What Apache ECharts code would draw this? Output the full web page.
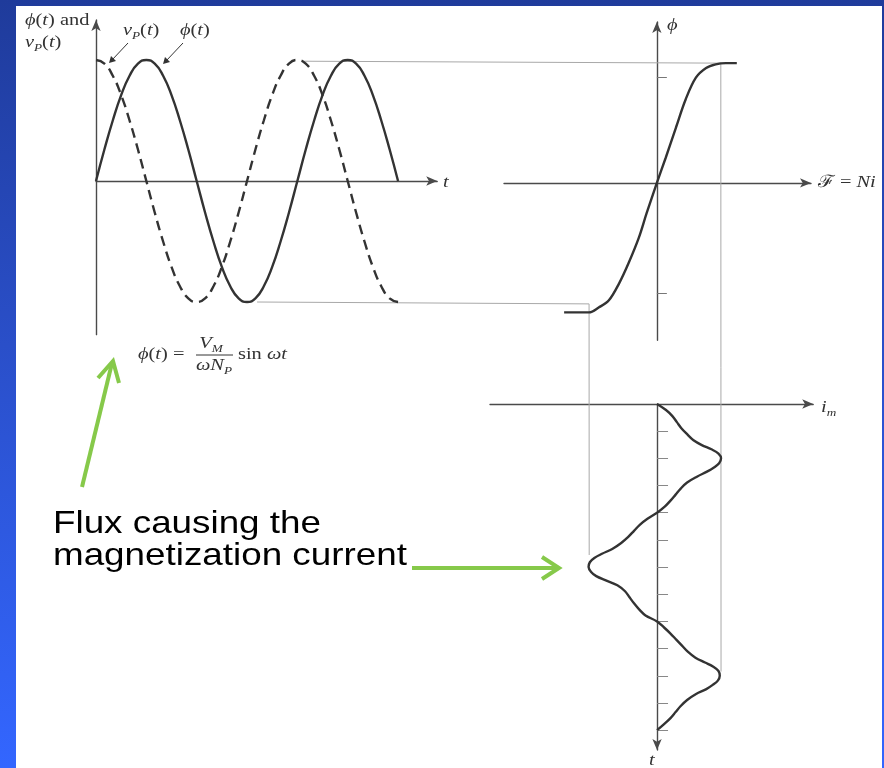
<!DOCTYPE html>
<html>
<head>
<meta charset="utf-8">
<script src="https://cdn.jsdelivr.net/npm/echarts@6/dist/echarts.min.js"></script>
<style>
  html, body { margin: 0; padding: 0; width: 884px; height: 768px; overflow: hidden; }
  body { position: relative; background: linear-gradient(to bottom, #1f3b9b 0%, #2a4fc9 45%, #3366ff 100%); }
  #panel { position: absolute; left: 16px; top: 6px; width: 866px; height: 762px; background: #ffffff; }
  #chart { position: absolute; left: 0; top: 0; width: 884px; height: 768px; }
</style>
</head>
<body>
<div id="panel"></div>
<div id="chart"></div>
<script>
// ---- flux and primary voltage against ωt (degrees) ----
const wtDeg = [0, 15, 30, 45, 60, 75, 90, 105, 120, 135, 150, 165, 180, 195, 210, 225, 240, 255, 270,
  285, 300, 315, 330, 345, 360, 375, 390, 405, 420, 435, 450, 465, 480, 495, 510, 525, 540];
const fluxValues = [0, 0.26, 0.5, 0.71, 0.87, 0.97, 1, 0.97, 0.87, 0.71, 0.5, 0.26, 0, -0.26, -0.5, -0.71,
  -0.87, -0.97, -1, -0.97, -0.87, -0.71, -0.5, -0.26, 0, 0.26, 0.5, 0.71, 0.87, 0.97, 1, 0.97, 0.87, 0.71,
  0.5, 0.26, 0];
const voltageValues = [1, 0.97, 0.87, 0.71, 0.5, 0.26, 0, -0.26, -0.5, -0.71, -0.87, -0.97, -1, -0.97,
  -0.87, -0.71, -0.5, -0.26, 0, 0.26, 0.5, 0.71, 0.87, 0.97, 1, 0.97, 0.87, 0.71, 0.5, 0.26, 0, -0.26,
  -0.5, -0.71, -0.87, -0.97, -1];

// ---- magnetization curve: mmf F = Ni against flux ----
const mmfValues = [-1.45, -1.06, -0.91, -0.75, -0.59, -0.44, -0.28, -0.16, 0, 0.14, 0.30, 0.45, 0.61,
  0.77, 0.92, 1.08, 1.25];
const curveFluxValues = [-1.07, -1.07, -1.03, -0.97, -0.83, -0.66, -0.45, -0.25, 0, 0.21, 0.46, 0.69,
  0.87, 0.95, 0.98, 0.99, 0.99];
const fluxAxisMarks = [0.87, -0.91];

// ---- magnetization current against time (degrees) ----
const currentTimes = [0, 10, 20, 30, 40, 50, 60, 68, 75, 82, 90, 98, 105, 112, 120, 130, 140, 150, 160,
  170, 180, 190, 200, 210, 220, 230, 240, 248, 255, 262, 270, 278, 285, 292, 300, 310, 320, 330, 340, 350,
  360, 370, 380, 390, 400, 410, 420, 428, 435, 442, 450, 458, 465, 472, 480, 490, 500, 510, 520, 530, 540];
const currentValues = [0, 0.14, 0.24, 0.31, 0.38, 0.47, 0.57, 0.70, 0.85, 0.96, 1.0, 0.97, 0.89, 0.78,
  0.63, 0.47, 0.37, 0.29, 0.21, 0.12, 0, -0.15, -0.27, -0.36, -0.45, -0.56, -0.70, -0.86, -0.98, -1.05,
  -1.07, -1.03, -0.95, -0.80, -0.62, -0.50, -0.43, -0.36, -0.28, -0.18, 0, 0.11, 0.21, 0.30, 0.39, 0.48,
  0.60, 0.75, 0.88, 0.96, 0.98, 0.95, 0.87, 0.77, 0.61, 0.47, 0.37, 0.29, 0.21, 0.11, 0];
const timeTicks = [45, 90, 135, 180, 225, 270, 315, 360, 405, 450, 495, 540];

// ---- projection guides: [start ωt, flux level, mmf / current level, end time] ----
const upperProjection = [370, 0.99, 1.0, 443];
const lowerProjection = [288, -1.0, -1.06, 250];

const SERIF = '"Liberation Serif","DejaVu Serif",serif';
const INK = '#333333';
const AXIS = '#4a4a4a';
const GREEN = '#86c94a';

const richStyles = {
  i: { fontStyle: 'italic', fontFamily: SERIF, fontSize: 17, lineHeight: 22, fill: INK },
  r: { fontFamily: SERIF, fontSize: 17, lineHeight: 22, fill: INK },
  s: { fontStyle: 'italic', fontFamily: SERIF, fontSize: 11, lineHeight: 12, verticalAlign: 'bottom', fill: INK }
};

function serifText(id, x, yCenter, text, align) {
  return {
    type: 'text', id: id, x: x, y: yCenter, scaleX: 1.2, silent: true, z: 5,
    style: {
      text: text, rich: richStyles, fontFamily: SERIF, fontSize: 17, lineHeight: 22, fill: INK,
      align: align || 'left', verticalAlign: 'middle'
    }
  };
}

function axisStyle(symbol) {
  return {
    show: true, onZero: true,
    symbol: symbol || ['none', 'arrow'], symbolSize: [7, 11],
    lineStyle: { color: AXIS, width: 1.4 }
  };
}

const hidden = { show: false };

const option = {
  animation: false,
  backgroundColor: 'transparent',
  grid: [
    { left: 96, top: 20.07, width: 341.2, height: 314.6 },
    { left: 504, top: 22, width: 307, height: 318.2 },
    { left: 490, top: 404, width: 323.2, height: 346.1 }
  ],
  xAxis: [
    { gridIndex: 0, type: 'value', min: 0, max: 610, axisLine: axisStyle(), axisTick: hidden, axisLabel: hidden, splitLine: hidden },
    { gridIndex: 1, type: 'value', min: -2.39, max: 2.41, axisLine: axisStyle(), axisTick: hidden, axisLabel: hidden, splitLine: hidden },
    { gridIndex: 2, type: 'value', min: -2.61, max: 2.44, axisLine: axisStyle(), axisTick: hidden, axisLabel: hidden, splitLine: hidden }
  ],
  yAxis: [
    { gridIndex: 0, type: 'value', min: -1.27, max: 1.33, axisLine: axisStyle(), axisTick: hidden, axisLabel: hidden, splitLine: hidden },
    { gridIndex: 1, type: 'value', min: -1.30, max: 1.33, axisLine: axisStyle(),
      axisTick: { show: true, inside: true, length: 10, customValues: fluxAxisMarks, lineStyle: { color: '#777', width: 1 } },
      axisLabel: hidden, splitLine: hidden },
    { gridIndex: 2, type: 'value', min: 0, max: 573, inverse: true, axisLine: axisStyle(['arrow', 'none']),
      axisTick: { show: true, inside: true, length: 11, customValues: timeTicks, lineStyle: { color: '#888', width: 1 } },
      axisLabel: hidden, splitLine: hidden }
  ],
  series: [
    {
      name: 'φ(t)', type: 'line', xAxisIndex: 0, yAxisIndex: 0, smooth: true, showSymbol: false, z: 3,
      lineStyle: { color: INK, width: 2.4 },
      data: wtDeg.map((t, i) => [t, fluxValues[i]])
    },
    {
      name: 'vP(t)', type: 'line', xAxisIndex: 0, yAxisIndex: 0, smooth: true, showSymbol: false, z: 3,
      lineStyle: { color: INK, width: 2.4, type: [10, 6] },
      data: wtDeg.map((t, i) => [t, voltageValues[i]])
    },
    {
      name: 'magnetization curve', type: 'line', xAxisIndex: 1, yAxisIndex: 1, smooth: 0.35, showSymbol: false, z: 3,
      lineStyle: { color: INK, width: 2.4 },
      data: mmfValues.map((f, i) => [f, curveFluxValues[i]])
    },
    {
      name: 'i_m', type: 'line', xAxisIndex: 2, yAxisIndex: 2, smooth: 0.35, showSymbol: false, z: 3,
      lineStyle: { color: INK, width: 2.4 },
      data: currentTimes.map((t, i) => [currentValues[i], t])
    }
  ],
  graphic: { elements: [
    // axis captions
    serifText('capY1', 25, 21, '{i|ϕ}{r|(}{i|t}{r|) and}'),
    serifText('capY2', 25, 43, '{i|v}{s|P}{r|(}{i|t}{r|)}'),
    serifText('capV', 123, 31, '{i|v}{s|P}{r|(}{i|t}{r|)}'),
    serifText('capPhi', 180, 31, '{i|ϕ}{r|(}{i|t}{r|)}'),
    serifText('capT1', 443, 183, '{i|t}'),
    serifText('capPhiAxis', 667, 26, '{i|ϕ}'),
    serifText('capF', 818, 183, '{r|ℱ = }{i|Ni}'),
    serifText('capIm', 821, 408, '{i|i}{s|m}'),
    serifText('capT2', 649, 761, '{i|t}'),
    // formula ϕ(t) = V_M / (ω N_P) sin ωt
    serifText('fLeft', 138, 355, '{i|ϕ}{r|(}{i|t}{r|) =}'),
    serifText('fNum', 211, 344, '{i|V}{s|M}', 'center'),
    serifText('fDen', 214, 366, '{i|ωN}{s|P}', 'center'),
    serifText('fRight', 238, 355, '{r|sin }{i|ωt}'),
    { type: 'line', id: 'fBar', silent: true, z: 5, shape: { x1: 196, y1: 355, x2: 233, y2: 355 }, style: { stroke: INK, lineWidth: 1 } },
    // small pointer arrows for the curve captions
    { type: 'line', id: 'ptrV', silent: true, z: 5, shape: { x1: 128, y1: 43, x2: 112, y2: 60 }, style: { stroke: INK, lineWidth: 1 } },
    { type: 'polygon', id: 'ptrVHead', silent: true, z: 5, shape: { points: [[109, 63], [111, 56], [116, 61]] }, style: { fill: INK } },
    { type: 'line', id: 'ptrP', silent: true, z: 5, shape: { x1: 183, y1: 43, x2: 166, y2: 61 }, style: { stroke: INK, lineWidth: 1 } },
    { type: 'polygon', id: 'ptrPHead', silent: true, z: 5, shape: { points: [[163, 64], [165, 57], [170, 62]] }, style: { fill: INK } },
    // green annotation arrows
    { type: 'polyline', id: 'g1', silent: true, z: 6, shape: { points: [[82, 487], [112, 363]] }, style: { stroke: GREEN, lineWidth: 4 } },
    { type: 'polyline', id: 'g1h', silent: true, z: 6, shape: { points: [[98, 378], [113, 361], [119, 383]] }, style: { stroke: GREEN, lineWidth: 4, lineJoin: 'miter' } },
    { type: 'polyline', id: 'g2', silent: true, z: 6, shape: { points: [[412, 568], [557, 568]] }, style: { stroke: GREEN, lineWidth: 4 } },
    { type: 'polyline', id: 'g2h', silent: true, z: 6, shape: { points: [[542, 557], [559, 568], [542, 579]] }, style: { stroke: GREEN, lineWidth: 4, lineJoin: 'miter' } },
    {
      type: 'text', id: 'note', x: 53, y: 508, scaleX: 1.15, silent: true, z: 6,
      style: {
        text: 'Flux causing the\nmagnetization current',
        fontFamily: '"Liberation Sans", Arial, sans-serif', fontSize: 32, lineHeight: 32,
        fill: '#000000', align: 'left', verticalAlign: 'top'
      }
    }
  ] }
};

const chart = echarts.init(document.getElementById('chart'), null, { renderer: 'canvas' });
chart.setOption(option);

// projection guides between the three plots, placed through each grid's own axes
function toPx(gridIndex, pt) { return chart.convertToPixel({ gridIndex: gridIndex }, pt); }
function projection(p) {
  return [
    toPx(0, [p[0], p[1]]),
    toPx(1, [p[2], p[1]]),
    toPx(2, [p[2], p[3]])
  ];
}
chart.setOption({
  graphic: { elements: [
    { type: 'polyline', id: 'projUpper', silent: true, z: 1, shape: { points: projection(upperProjection) }, style: { stroke: '#a8a8a8', lineWidth: 1, fill: null } },
    { type: 'polyline', id: 'projLower', silent: true, z: 1, shape: { points: projection(lowerProjection) }, style: { stroke: '#a8a8a8', lineWidth: 1, fill: null } }
  ] }
});
</script>
</body>
</html>
